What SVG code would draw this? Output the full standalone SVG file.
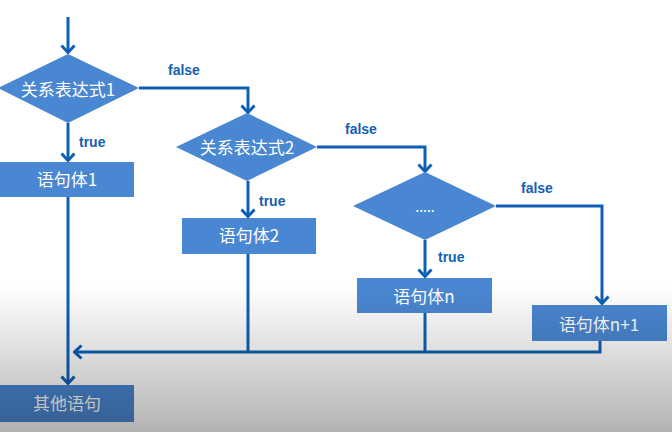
<svg xmlns="http://www.w3.org/2000/svg" width="672" height="432" viewBox="0 0 672 432">
  <style>
    .shape { fill: #4a87d2; }
    .node-text { font-family: "Noto Sans CJK SC", "Liberation Sans", sans-serif; font-size: 17px; fill: #ffffff; text-anchor: middle; }
    .edge { fill: none; stroke: #0d60b6; stroke-width: 3; }
    .label { font-family: "Liberation Sans", "Noto Sans", sans-serif; font-size: 14px; font-weight: bold; fill: #1560b0; }
  </style>
  <defs>
    <marker id="arrow" markerUnits="userSpaceOnUse" viewBox="0 0 10 16" refX="9" refY="8" markerWidth="10" markerHeight="16" orient="auto">
      <path d="M1.5,1.5 L8.5,8 L1.5,14.5" fill="none" stroke="#0d60b6" stroke-width="3"/>
    </marker>
    <linearGradient id="shade" x1="0" y1="0" x2="0" y2="1">
      <stop offset="0" stop-color="#000000" stop-opacity="0"/>
      <stop offset="0.35" stop-color="#000000" stop-opacity="0.1"/>
      <stop offset="1" stop-color="#000000" stop-opacity="0.3"/>
    </linearGradient>
  </defs>

  <rect x="0" y="0" width="672" height="432" fill="#ffffff"/>

  <g id="connectors">
    <path class="edge" d="M68,17 V53" marker-end="url(#arrow)"/>
    <path class="edge" d="M68,123 V161" marker-end="url(#arrow)"/>
    <path class="edge" d="M139,88 H248 V113" marker-end="url(#arrow)"/>
    <path class="edge" d="M248,181 V217" marker-end="url(#arrow)"/>
    <path class="edge" d="M317,147 H425 V172" marker-end="url(#arrow)"/>
    <path class="edge" d="M425,240 V277" marker-end="url(#arrow)"/>
    <path class="edge" d="M496,206 H602 V304" marker-end="url(#arrow)"/>
    <path class="edge" d="M68,197 V384" marker-end="url(#arrow)"/>
    <path class="edge" d="M248,254 V352"/>
    <path class="edge" d="M425,313 V352"/>
    <path class="edge" d="M600,341 V352 H74" marker-end="url(#arrow)"/>
    <text class="label" x="168" y="75">false</text>
    <text class="label" x="79" y="147">true</text>
    <text class="label" x="345" y="134">false</text>
    <text class="label" x="259" y="206">true</text>
    <text class="label" x="521" y="193">false</text>
    <text class="label" x="438" y="262">true</text>
  </g>

  <g id="cond1">
    <polygon class="shape" points="68,54 139,88 68,123 -2,88"/>
    <text class="node-text" x="68" y="96">关系表达式1</text>
  </g>
  <g id="body1">
    <rect class="shape" x="0" y="162" width="134" height="35"/>
    <text class="node-text" x="67" y="186">语句体1</text>
  </g>
  <g id="cond2">
    <polygon class="shape" points="247,113 317,147 247,181 176,147"/>
    <text class="node-text" x="247" y="154">关系表达式2</text>
  </g>
  <g id="body2">
    <rect class="shape" x="182" y="218" width="134" height="36"/>
    <text class="node-text" x="249" y="242">语句体2</text>
  </g>
  <g id="cond3">
    <polygon class="shape" points="425,172 496,206 425,240 353,206"/>
    <text class="node-text" x="425" y="212" style="font-size:14px">.....</text>
  </g>
  <g id="bodyn">
    <rect class="shape" x="357" y="278" width="135" height="35"/>
    <text class="node-text" x="424" y="302.5">语句体n</text>
  </g>
  <g id="bodyn1">
    <rect class="shape" x="532" y="305" width="135" height="36"/>
    <text class="node-text" x="599" y="330.5">语句体n+1</text>
  </g>
  <g id="other">
    <rect class="shape" x="0" y="385" width="134" height="37"/>
    <text class="node-text" x="67" y="409.5">其他语句</text>
  </g>

  <rect x="0" y="285" width="672" height="147" fill="url(#shade)"/>
</svg>
